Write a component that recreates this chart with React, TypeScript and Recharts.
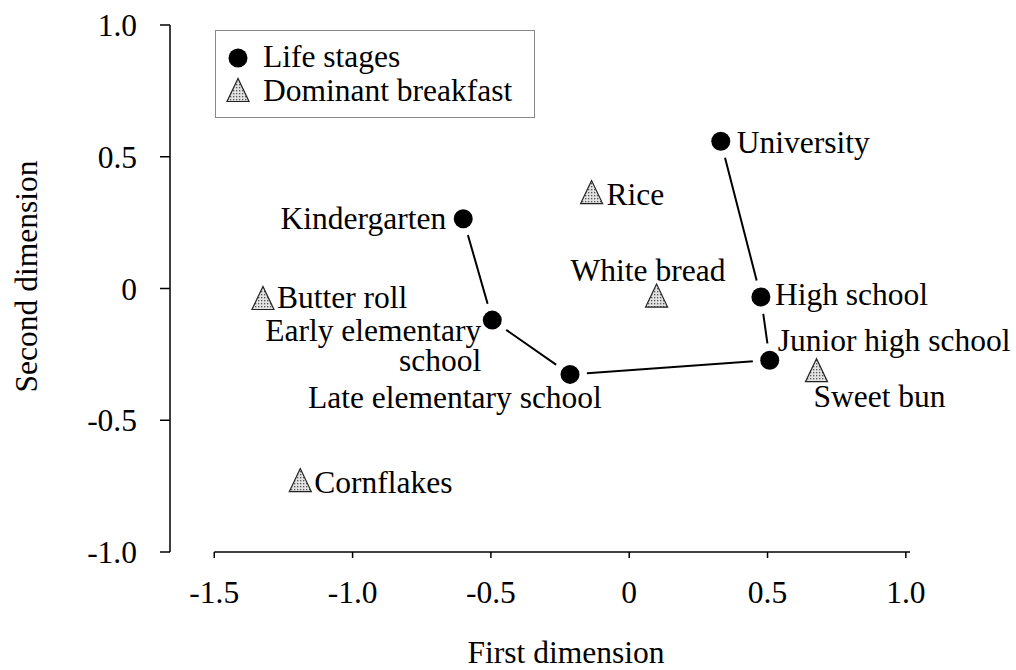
import {
  Label,
  Legend,
  ReferenceLine,
  Scatter,
  ScatterChart,
  XAxis,
  YAxis,
} from "recharts";

const FONT = '"Liberation Serif", "Times New Roman", Times, serif';
const FS = 31.5;

// life stages, in the order the line joins them
const stageNames = [
  "Kindergarten",
  "Early elementary school",
  "Late elementary school",
  "Junior high school",
  "High school",
  "University",
];
const stageX = [-0.6, -0.495, -0.214, 0.508, 0.476, 0.331];
const stageY = [0.265, -0.12, -0.326, -0.272, -0.032, 0.559];

// dominant breakfast
const foodNames = ["Rice", "White bread", "Butter roll", "Sweet bun", "Cornflakes"];
const foodX = [-0.136, 0.099, -1.324, 0.677, -1.189];
const foodY = [0.366, -0.027, -0.036, -0.31, -0.727];

const xTicks = [-1.5, -1.0, -0.5, 0, 0.5, 1.0];
const yTicks = [-1.0, -0.5, 0, 0.5, 1.0];

// where each point's text sits, relative to its marker (px)
const LABEL_PLACE: Record<string, { dx: number; dy: number; anchor: string; lines?: string[] }> = {
  Kindergarten: { dx: -17, dy: 10, anchor: "end" },
  "Early elementary school": { dx: -11, dy: 21, anchor: "end", lines: ["Early elementary", "school"] },
  "Late elementary school": { dx: -262, dy: 34, anchor: "start" },
  "Junior high school": { dx: 8, dy: -9, anchor: "start" },
  "High school": { dx: 14, dy: 8, anchor: "start" },
  University: { dx: 16, dy: 12, anchor: "start" },
  Rice: { dx: 15, dy: 13, anchor: "start" },
  "White bread": { dx: -86, dy: -15, anchor: "start" },
  "Butter roll": { dx: 14, dy: 10, anchor: "start" },
  "Sweet bun": { dx: -3, dy: 37, anchor: "start" },
  Cornflakes: { dx: 14, dy: 13, anchor: "start" },
};

const stages = stageNames.map((name, i) => ({ name, x: stageX[i], y: stageY[i] }));
const foods = foodNames.map((name, i) => ({ name, x: foodX[i], y: foodY[i] }));

const fmt = (v: number) => (v === 0 ? "0" : v.toFixed(1));

function PointText({ cx, cy, name }: { cx: number; cy: number; name: string }) {
  const p = LABEL_PLACE[name];
  const lines = p.lines ?? [name];
  return (
    <text
      x={cx + p.dx}
      y={cy + p.dy}
      textAnchor={p.anchor as any}
      fontFamily={FONT}
      fontSize={FS}
      fill="#000"
    >
      {lines.map((l, i) => (
        <tspan key={i} x={cx + p.dx} dy={i === 0 ? 0 : 30}>
          {l}
        </tspan>
      ))}
    </text>
  );
}

function DotsPattern() {
  return (
    <defs>
      <pattern id="stipple" width="3" height="3" patternUnits="userSpaceOnUse">
        <rect width="3" height="3" fill="#e2e2e2" />
        <rect width="1.3" height="1.3" fill="#555" />
      </pattern>
    </defs>
  );
}

function Triangle({ cx, cy }: { cx: number; cy: number }) {
  return (
    <polygon
      points={`${cx},${cy - 11.5} ${cx - 11},${cy + 11.5} ${cx + 11},${cy + 11.5}`}
      fill="url(#stipple)"
      stroke="#222"
      strokeWidth={1.2}
    />
  );
}

const stageShape = (props: any) => {
  const { cx, cy, payload } = props;
  return (
    <g>
      <circle cx={cx} cy={cy} r={17} fill="#fff" />
      <circle cx={cx} cy={cy} r={9.5} fill="#000" />
      <PointText cx={cx} cy={cy} name={payload.name} />
    </g>
  );
};

const foodShape = (props: any) => {
  const { cx, cy, payload } = props;
  return (
    <g>
      <DotsPattern />
      <Triangle cx={cx} cy={cy} />
      <PointText cx={cx} cy={cy} name={payload.name} />
    </g>
  );
};

const renderLegend = () => (
  <svg width={320} height={88} style={{ display: "block" }}>
    <DotsPattern />
    <rect x={0.5} y={0.5} width={319} height={87} fill="#fff" stroke="#888" />
    <circle cx={23} cy={28} r={9.5} fill="#000" />
    <text x={48} y={37} fontFamily={FONT} fontSize={FS} fill="#000">
      Life stages
    </text>
    <Triangle cx={23} cy={60} />
    <text x={48} y={71} fontFamily={FONT} fontSize={FS} fill="#000">
      Dominant breakfast
    </text>
  </svg>
);

export default function App() {
  const tick = { fontFamily: FONT, fontSize: FS, fill: "#000" };
  return (
    <div style={{ position: "absolute", left: 0, top: 0, background: "#fff" }}>
      <ScatterChart width={1016} height={670} margin={{ top: 25, right: 106, bottom: 0, left: 0 }}>
        <XAxis
          type="number"
          dataKey="x"
          domain={[-1.66, 1.015]}
          ticks={xTicks}
          tickFormatter={fmt}
          axisLine={false}
          tickLine={{ stroke: "#000", strokeWidth: 1.5 }}
          tickSize={6}
          tickMargin={23}
          tick={tick}
          height={118}
        >
          <Label
            value="First dimension"
            position="insideBottom"
            offset={7}
            dx={26}
            style={{ fontFamily: FONT, fontSize: FS, fill: "#000" }}
          />
        </XAxis>
        <YAxis
          type="number"
          dataKey="y"
          domain={[-1, 1]}
          ticks={yTicks}
          tickFormatter={fmt}
          axisLine={{ stroke: "#000", strokeWidth: 1.5 }}
          tickLine={{ stroke: "#000", strokeWidth: 1.5 }}
          tickSize={10}
          tickMargin={23}
          tick={tick}
          width={170}
        >
          <Label
            value="Second dimension"
            angle={-90}
            position="insideLeft"
            offset={26}
            dy={-12}
            style={{ fontFamily: FONT, fontSize: FS, fill: "#000", textAnchor: "middle" }}
          />
        </YAxis>
        <ReferenceLine
          segment={[
            { x: -1.5, y: -1 },
            { x: 1.015, y: -1 },
          ]}
          stroke="#000"
          strokeWidth={1.5}
        />
        <Legend
          layout="horizontal"
          verticalAlign="middle"
          align="center"
          content={renderLegend}
          wrapperStyle={{ position: "absolute", left: 215, top: 30, width: 320, height: 88 }}
        />
        <Scatter
          data={stages}
          line={{ stroke: "#000", strokeWidth: 2 }}
          lineType="joint"
          shape={stageShape}
          isAnimationActive={false}
        />
        <Scatter data={foods} shape={foodShape} isAnimationActive={false} />
      </ScatterChart>
    </div>
  );
}
